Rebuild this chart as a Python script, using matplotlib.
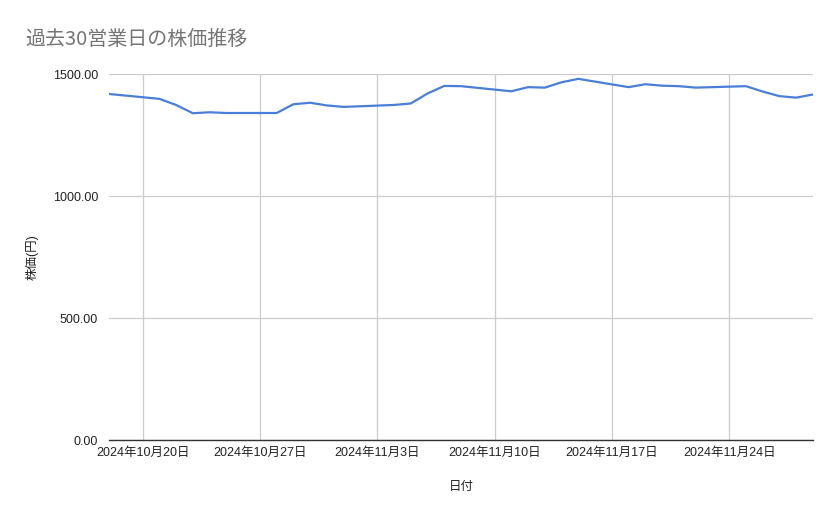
import matplotlib
matplotlib.use("Agg")
import matplotlib.pyplot as plt
import pandas as pd

plt.rcParams['font.family'] = ['Liberation Sans', 'Noto Sans CJK JP', 'DejaVu Sans']

dates = ["2024-10-18", "2024-10-21", "2024-10-22", "2024-10-23", "2024-10-24", "2024-10-25",
         "2024-10-28", "2024-10-29", "2024-10-30", "2024-10-31", "2024-11-01",
         "2024-11-04", "2024-11-05", "2024-11-06", "2024-11-07", "2024-11-08",
         "2024-11-11", "2024-11-12", "2024-11-13", "2024-11-14", "2024-11-15",
         "2024-11-18", "2024-11-19", "2024-11-20", "2024-11-21", "2024-11-22",
         "2024-11-25", "2024-11-26", "2024-11-27", "2024-11-28", "2024-11-29"]
prices = [1419, 1399, 1374, 1340, 1344, 1341,
          1341, 1377, 1383, 1372, 1366,
          1374, 1380, 1421, 1452, 1451,
          1430, 1447, 1445, 1467, 1481,
          1447, 1459, 1453, 1451, 1445,
          1451, 1429, 1410, 1404, 1417]

tick_dates = ["2024-10-20", "2024-10-27", "2024-11-03", "2024-11-10", "2024-11-17", "2024-11-24"]
tick_labels = ["2024年10月20日", "2024年10月27日", "2024年11月3日",
               "2024年11月10日", "2024年11月17日", "2024年11月24日"]
y_ticks = [0, 500, 1000, 1500]

x = pd.to_datetime(dates)

fig = plt.figure(figsize=(8.39, 5.19), dpi=100)
ax = fig.add_axes([0.130, 0.152, 0.839, 0.705])
ax.plot(x, prices, color='#4a7fd8', linewidth=1.6)

ax.set_xlim(x[0], x[-1])
ax.set_ylim(0, 1500)
ax.set_yticks(y_ticks)
ax.set_yticklabels([f"{v:.2f}" for v in y_ticks])
ax.set_xticks(pd.to_datetime(tick_dates))
ax.set_xticklabels(tick_labels)

ax.grid(True, color='#cccccc', linewidth=0.9)
ax.set_axisbelow(True)
for s in ['top', 'right', 'left']:
    ax.spines[s].set_visible(False)
ax.spines['bottom'].set_color('#333333')
ax.spines['bottom'].set_linewidth(1.0)
ax.tick_params(length=0, labelsize=9, colors='#222222', pad=5)
ax.tick_params(axis='y', pad=8)

ax.set_xlabel("日付", fontsize=9, color='#222222', labelpad=16)
ax.set_ylabel("株価(円)", fontsize=9, color='#222222', labelpad=10)
fig.text(0.030, 0.923, "過去30営業日の株価推移", fontsize=14.4, color='#757575', va='center',
         family=['Noto Sans CJK JP', 'DejaVu Sans'])

fig.savefig("out.png", dpi=100, facecolor='white')
